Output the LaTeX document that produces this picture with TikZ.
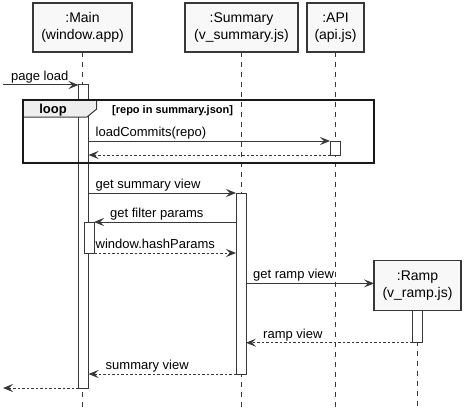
\documentclass[tikz,border=0pt]{standalone}
\usepackage{fontspec}
\setmainfont{Liberation Sans}
\usetikzlibrary{positioning,arrows.meta}
\definecolor{lineclr}{HTML}{383838}
\definecolor{boxfill}{HTML}{F8F8F8}
\definecolor{tabfill}{HTML}{EEEEEE}

\begin{document}
\begin{tikzpicture}[x=1pt, y=-1pt,
                    partnode/.style={rectangle, draw=lineclr, fill=boxfill, line width=1.5pt, align=center, font=\fontsize{14}{16.5}\selectfont, minimum height=49pt, inner sep=0pt, outer sep=0pt},
                    actnode/.style={rectangle, draw=lineclr, fill=white, line width=1pt, minimum width=10pt, inner sep=0pt, outer sep=0pt},
                    lifeline/.style={draw=lineclr, line width=1pt, dash pattern=on 5pt off 5pt},
                    msg/.style={draw=lineclr, line width=1pt, -{Stealth[length=10pt, width=8pt, inset=4pt]}},
                    reply/.style={msg, dash pattern=on 2.5pt off 2pt},
                    msglabel/.style={anchor=base west, inner sep=0pt, font=\fontsize{13}{15}\selectfont, yshift=4.5pt}
                ]
                    \useasboundingbox (0,0) rectangle (470,417);
                    \node[partnode, minimum width=99pt] (main) at (82.5,27.5) {:Main\\(window.app)};
                    \node[partnode, minimum width=113pt] (summary) at (241.5,27.5) {:Summary\\(v\_summary.js)};
                    \node[partnode, minimum width=57pt] (api) at (335.5,27.5) {:API\\(api.js)};
                    \node[partnode, minimum width=87pt, minimum height=50pt] (ramp) at (417.5,285.7) {:Ramp\\(v\_ramp.js)};
                    \coordinate (mainend) at (82,407);
                    \coordinate (summaryend) at (241.7,407);
                    \coordinate (apiend) at (335.3,407);
                    \coordinate (rampend) at (417.7,407);
                    \draw[lifeline] (main.south) -- (main.south |- mainend);
                    \draw[lifeline] (summary.south) -- (summary.south |- summaryend);
                    \draw[lifeline] (api.south) -- (api.south |- apiend);
                    \draw[lifeline] (ramp.south) -- (ramp.south |- rampend);
                    \node[actnode, minimum height=303pt] (mainact) at (83.5,236.5) {};
                    \node[actnode, minimum height=181pt] (sumact) at (241,283.5) {};
                    \node[actnode, minimum height=14pt] (apiact) at (335,148) {};
                    \node[actnode, minimum height=31pt] (mainsub) at (89,237.5) {};
                    \node[actnode, minimum height=32pt, below=0pt of ramp] (rampact) {};
                    \coordinate (pagein) at (3,85);
                    \coordinate (pageout) at (3,388);
                    \draw[msg] (pagein) -- (mainact.north west);
                    \node[msglabel, xshift=8pt] (lpage) at (pagein) {page load};
                    \draw[msg] (mainact.east |- apiact.north) -- (apiact.north west);
                    \node[msglabel, xshift=7pt] (lload) at (mainact.east |- apiact.north) {loadCommits(repo)};
                    \draw[reply] (apiact.south west) -- (mainact.east |- apiact.south);
                    \draw[msg] (mainact.east |- sumact.north) -- (sumact.north west);
                    \node[msglabel, xshift=7pt] (lgetsum) at (mainact.east |- sumact.north) {get summary view};
                    \draw[msg] (sumact.west |- mainsub.north) -- (mainsub.north east);
                    \node[msglabel, xshift=16pt] (lfilter) at (mainsub.north east) {get filter params};
                    \draw[reply] (mainsub.south east) -- (sumact.west |- mainsub.south);
                    \node[msglabel, xshift=1.5pt] (lhash) at (mainsub.south east) {window.hashParams};
                    \draw[msg] ([yshift=2.3pt]sumact.east |- ramp.west) -- ([yshift=2.3pt]ramp.west);
                    \node[msglabel, xshift=7pt, yshift=2.3pt] (lgetramp) at (sumact.east |- ramp.west) {get ramp view};
                    \draw[reply] (rampact.south west) -- (sumact.east |- rampact.south);
                    \node[msglabel, xshift=17pt] (lramp) at (sumact.east |- rampact.south) {ramp view};
                    \draw[reply] (sumact.south west) -- (mainact.east |- sumact.south);
                    \node[msglabel, xshift=17pt] (lsum) at (mainact.east |- sumact.south) {summary view};
                    \draw[reply] (mainact.south west) -- (pageout);
                    \draw[draw=lineclr, fill=tabfill, line width=1pt] (23,99.5) -- (96.7,99.5) -- (96.7,109) -- (87,117) -- (23,117) -- cycle;
                    \draw[draw=black!90, line width=2pt] (23,99.5) rectangle (374,163);
                    \node[font=\bfseries\fontsize{13}{15}\selectfont, anchor=base, inner sep=0pt] (looplbl) at (53,113.3) {loop};
                    \node[font=\bfseries\fontsize{11}{13}\selectfont, anchor=base west, inner sep=0pt] (loopcond) at (112,113.5) {[repo in summary.json]};
                \end{tikzpicture}
\end{document}
